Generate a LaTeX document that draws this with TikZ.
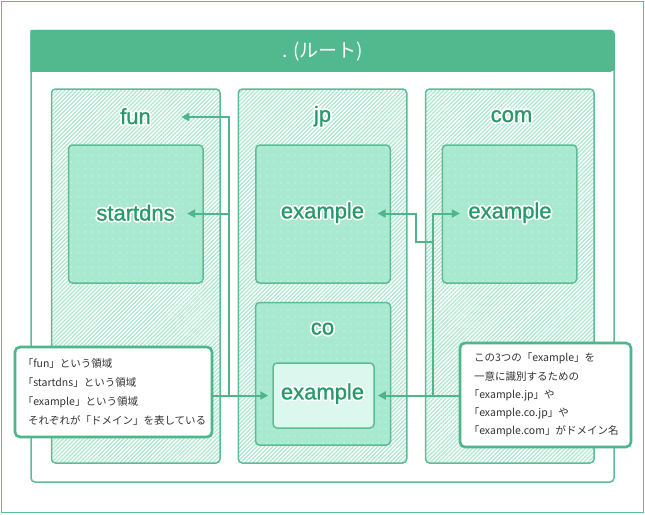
\documentclass[tikz,border=0pt]{standalone}
\usepackage{fontspec}
\setmainfont{Liberation Sans}
\newfontfamily\jpfont{Noto Sans CJK JP}
\newfontfamily\lblfont[FakeBold=1]{Liberation Sans}
\usepackage[copies]{contour}
\contourlength{1.6pt}
\usetikzlibrary{patterns.meta,arrows.meta,calc}
\definecolor{gmain}{HTML}{52B88E}
\definecolor{gline}{HTML}{5CBD94}
\definecolor{gtext}{HTML}{27996A}
\definecolor{ghatch}{HTML}{B2E8D3}
\definecolor{gdot}{HTML}{A9E9D1}
\definecolor{ginner}{HTML}{DCF7EE}
\definecolor{gconn}{HTML}{4DB68A}
\newcommand\halo[1]{\contour{white}{#1}}
\newcommand\lb{\hspace*{-0.5em}}
\newcommand\tline[1]{\mbox{#1}}
\tikzset{
  hatchbox/.style={draw=gline, line width=1.5pt, rounded corners=4pt,
    pattern={Lines[angle=45,distance=2.85pt,line width=1.35pt]}, pattern color=ghatch,
    inner sep=0pt},
  dotbox/.style={draw=gline, line width=1.5pt, rounded corners=4pt,
    preaction={fill=gdot},
    pattern={Dots[distance=6.5pt,radius=0.75pt]}, pattern color=white!65!gdot,
    inner sep=0pt},
  innerbox/.style={draw=gline, line width=1.5pt, rounded corners=4pt, fill=ginner, inner sep=0pt},
  lbl/.style={text=gtext, font=\lblfont\fontsize{22}{22}\selectfont},
  callout/.style={draw=gconn, line width=2.6pt, rounded corners=5pt, fill=white,
    align=left, font=\jpfont\fontsize{10.5}{19}\selectfont, text=black!80},
  conn/.style={draw=gconn, line width=2pt},
  arr/.style={conn, -{Triangle[length=8pt,width=8pt]}},
  rarr/.style={conn, {Triangle[length=8pt,width=8pt]}-},
}
\begin{document}
\begin{tikzpicture}[x=1pt,y=-1pt]
\useasboundingbox (0,0) rectangle (645,514);
% outer frame
\node[draw=gline, line width=1.2pt, minimum width=642pt, minimum height=511pt, inner sep=0pt] (frame) at (322.5,257) {};
% root box
\node[draw=gline, line width=1.5pt, rounded corners=4pt, minimum width=583pt, minimum height=451.5pt, inner sep=0pt] (root) at (322.5,256.25) {};
\fill[gmain, rounded corners=4pt] (root.north west) -- (root.north east) -- ([yshift=-42pt]root.north east) [sharp corners] -- ([yshift=-42pt]root.north west) -- cycle;
\node[text=white, font=\jpfont\fontsize{19}{19}\selectfont] (title) at (322.5,51.5) {. (ルート)};
% level 1 boxes
\node[hatchbox, minimum width=168.5pt, minimum height=374pt] (funbox) at (135.75,276) {};
\node[hatchbox, minimum width=168.5pt, minimum height=374pt] (jpbox) at (322.5,276) {};
\node[hatchbox, minimum width=168.5pt, minimum height=374pt] (combox) at (509.75,276) {};
% level 2 boxes
\node[dotbox, minimum width=134.5pt, minimum height=138pt] (sdbox) at (135.75,214) {};
\node[dotbox, minimum width=134.5pt, minimum height=138pt] (jpexbox) at (323,214) {};
\node[dotbox, minimum width=134.5pt, minimum height=138pt] (comexbox) at (509.5,214) {};
\node[dotbox, minimum width=135pt, minimum height=142.5pt] (cobox) at (323,373.75) {};
\node[innerbox, minimum width=101pt, minimum height=65pt] (coexbox) at (323.5,395.5) {};
% labels
\node[lbl] (funl) at (135.5,117) {\halo{fun}};
\node[lbl] (jpl) at (322.5,117) {\halo{jp}};
\node[lbl] (coml) at (511.5,117) {\halo{com}};
\node[lbl] (sdl) at (135.5,213.5) {\halo{startdns}};
\node[lbl] (jpex) at (322.5,213.5) {\halo{example}};
\node[lbl] (comex) at (510,213.5) {\halo{example}};
\node[lbl] (col) at (322.5,329.5) {\halo{co}};
\node[lbl] (coex) at (322.5,394.5) {\halo{example}};
% callouts
\node[callout, text width=171pt, minimum width=197pt, minimum height=90pt, inner xsep=13pt] (callL) at (113.5,392) {\lb\tline{「fun」という領域}\\\lb\tline{「startdns」という領域}\\\lb\tline{「example」という領域}\\\tline{それぞれが「ドメイン」を表している}};
\node[callout, text width=143pt, minimum width=171pt, minimum height=104pt, inner xsep=14pt, font=\jpfont\fontsize{10.5}{18.2}\selectfont] (callR) at (545.5,395) {\tline{この3つの「example」を}\\\tline{一意に識別するための}\\\lb\tline{「example.jp」や}\\\lb\tline{「example.co.jp」や}\\\lb\tline{「example.com」がドメイン名}};
% connectors
\coordinate (jl) at (229,395);
\coordinate (jk) at (416,242);
\coordinate (jr) at (433,242);
\draw[arr, shorten >=4pt] (callL.east |- coexbox) -- (coexbox.west);
\draw[arr] (jl) |- ([xshift=27pt]funl.east);
\draw[arr] (jl |- sdl) -- ([xshift=9pt]sdl.east);
\draw[arr, shorten >=3pt] (callR.west |- coexbox) -- (coexbox.east);
\draw[rarr] ([xshift=10pt]jpex.east) -| (jk) -- (jr);
\draw[arr] (jr |- coexbox) |- ([xshift=-5pt]comex.west);
\end{tikzpicture}
\end{document}
